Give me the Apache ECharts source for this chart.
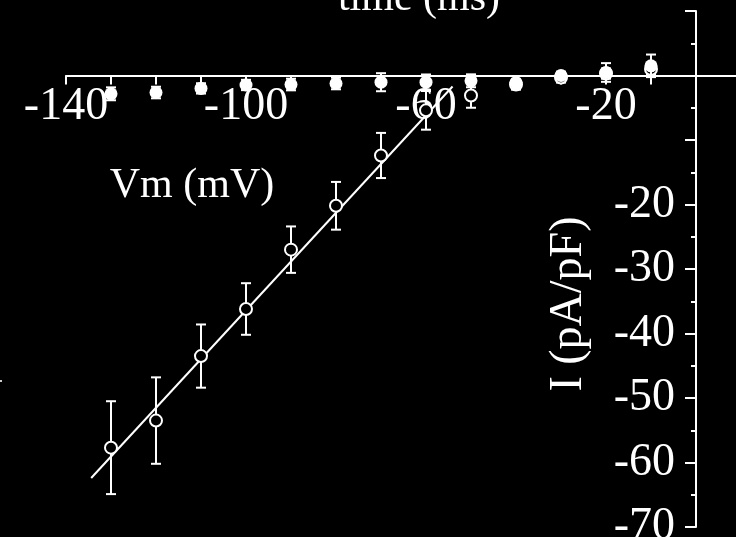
<!DOCTYPE html>
<html>
<head>
<meta charset="utf-8">
<script src="https://cdn.jsdelivr.net/npm/echarts@6/dist/echarts.min.js"></script>
<style>
  html, body { margin: 0; padding: 0; background: #000; }
  #chart { width: 736px; height: 537px; }
</style>
</head>
<body>
<div id="chart"></div>
<script>
// Membrane potential steps (mV)
const vm = [-130, -120, -110, -100, -90, -80, -70, -60, -50, -40, -30, -20, -10];

// Open circles: current density (pA/pF) and error
const openI   = [-57.7, -53.5, -43.5, -36.2, -27.0, -20.2, -12.4, -5.4, -3.1, -1.4, -0.3, 0.3, 1.0];
const openErr = [7.2, 6.7, 4.9, 4.0, 3.6, 3.7, 3.5, 3.0, 1.9, 0.8, 0.8, 0.8, 0.8];

// Filled circles: current density (pA/pF) and error
const filledI   = [-2.84, -2.64, -2.0, -1.47, -1.4, -1.24, -1.04, -1.04, -0.82, -1.09, 0.0, 0.47, 1.5];
const filledErr = [1.0, 0.9, 0.8, 0.8, 0.9, 0.9, 1.4, 1.2, 1.0, 1.0, 0.6, 1.45, 1.75];

// Linear fit through the open circles (end points)
const fitV = [-134.4, -54.1];
const fitI = [-62.4, -1.7];

// Tick labels
const xTickLabels = [-140, -100, -60, -20];
const yTickLabels = [-20, -30, -40, -50, -60, -70];

const FONT = 'Liberation Serif';
const WHITE = '#ffffff';

const pairs = (xs, ys) => xs.map((x, i) => [x, ys[i]]);
const bars = (xs, ys, es) => xs.map((x, i) => [x, ys[i] - es[i], ys[i] + es[i]]);

function errorBarRenderer(cap) {
  return function (params, api) {
    const x = api.value(0);
    const lo = api.coord([x, api.value(1)]);
    const hi = api.coord([x, api.value(2)]);
    const st = { stroke: WHITE, lineWidth: 2 };
    return {
      type: 'group',
      children: [
        { type: 'line', shape: { x1: lo[0], y1: lo[1], x2: hi[0], y2: hi[1] }, style: st },
        { type: 'line', shape: { x1: lo[0] - cap, y1: lo[1], x2: lo[0] + cap, y2: lo[1] }, style: st },
        { type: 'line', shape: { x1: hi[0] - cap, y1: hi[1], x2: hi[0] + cap, y2: hi[1] }, style: st }
      ]
    };
  };
}

const GRID = { left: 66, right: -5, top: 11, bottom: 10 };
const W = 736, H = 537;

const chart = echarts.init(document.getElementById('chart'), null, { renderer: 'canvas' });

chart.setOption({
  animation: false,
  backgroundColor: '#000',
  grid: Object.assign({ containLabel: false, outerBoundsMode: 'none' }, GRID),
  xAxis: {
    type: 'value',
    min: -140, max: 10, interval: 10,
    axisLine: { onZero: false, lineStyle: { color: WHITE, width: 2 } },
    axisTick: { show: true, length: 9, lineStyle: { color: WHITE, width: 2 } },
    axisLabel: {
      color: WHITE, fontFamily: FONT, fontSize: 46, margin: 8,
      formatter: v => (xTickLabels.includes(v) ? String(v) : '')
    },
    splitLine: { show: false }
  },
  yAxis: {
    type: 'value',
    min: -70, max: 10, interval: 10,
    axisLine: { onZero: false, lineStyle: { color: WHITE, width: 2 } },
    axisTick: { show: true, length: 11, lineStyle: { color: WHITE, width: 2 } },
    minorTick: { show: true, splitNumber: 2, length: 5, lineStyle: { color: WHITE, width: 2 } },
    axisLabel: {
      color: WHITE, fontFamily: FONT, fontSize: 46, margin: 21,
      padding: [0, 0, 6, 0],
      formatter: v => (yTickLabels.includes(v) ? String(v) : '')
    },
    splitLine: { show: false }
  },
  graphic: [
    {
      type: 'text', x: 419, y: -1,
      style: { text: 'time (ms)', fill: WHITE, font: '42px "' + FONT + '"', align: 'center', verticalAlign: 'middle' }
    },
    {
      type: 'text', x: 192, y: 186,
      style: { text: 'Vm (mV)', fill: WHITE, font: '42px "' + FONT + '"', align: 'center', verticalAlign: 'middle' }
    },
    {
      type: 'text', x: 569, y: 304, rotation: Math.PI / 2,
      style: { text: 'I (pA/pF)', fill: WHITE, font: '46px "' + FONT + '"', align: 'center', verticalAlign: 'middle' }
    },
    { type: 'rect', shape: { x: 0, y: 380, width: 2, height: 2 }, style: { fill: '#cccccc' } }
  ],
  series: [
    {
      name: 'fit',
      type: 'line',
      data: pairs(fitV, fitI),
      symbol: 'none',
      lineStyle: { color: WHITE, width: 2 },
      z: 2
    },
    {
      name: 'open error',
      type: 'custom',
      data: bars(vm, openI, openErr),
      encode: { x: 0, y: [1, 2] },
      renderItem: errorBarRenderer(5),
      z: 3
    },
    {
      name: 'open',
      type: 'scatter',
      data: pairs(vm, openI),
      symbol: 'circle',
      symbolSize: 12,
      itemStyle: { color: '#000', borderColor: WHITE, borderWidth: 2, opacity: 1 },
      z: 4
    },
    {
      name: 'filled error',
      type: 'custom',
      data: bars(vm, filledI, filledErr),
      encode: { x: 0, y: [1, 2] },
      renderItem: errorBarRenderer(5),
      z: 5
    },
    {
      name: 'filled',
      type: 'scatter',
      data: pairs(vm, filledI),
      symbol: 'circle',
      symbolSize: 13,
      itemStyle: { color: WHITE, opacity: 1 },
      z: 6
    }
  ]
});

// Move both axes (line, ticks and labels) so they cross at the origin.
const origin = chart.convertToPixel({ gridIndex: 0 }, [0, 0]);
chart.setOption({
  xAxis: { offset: -((H - GRID.bottom) - origin[1]) },
  yAxis: { offset: -(origin[0] - GRID.left) }
});
</script>
</body>
</html>
